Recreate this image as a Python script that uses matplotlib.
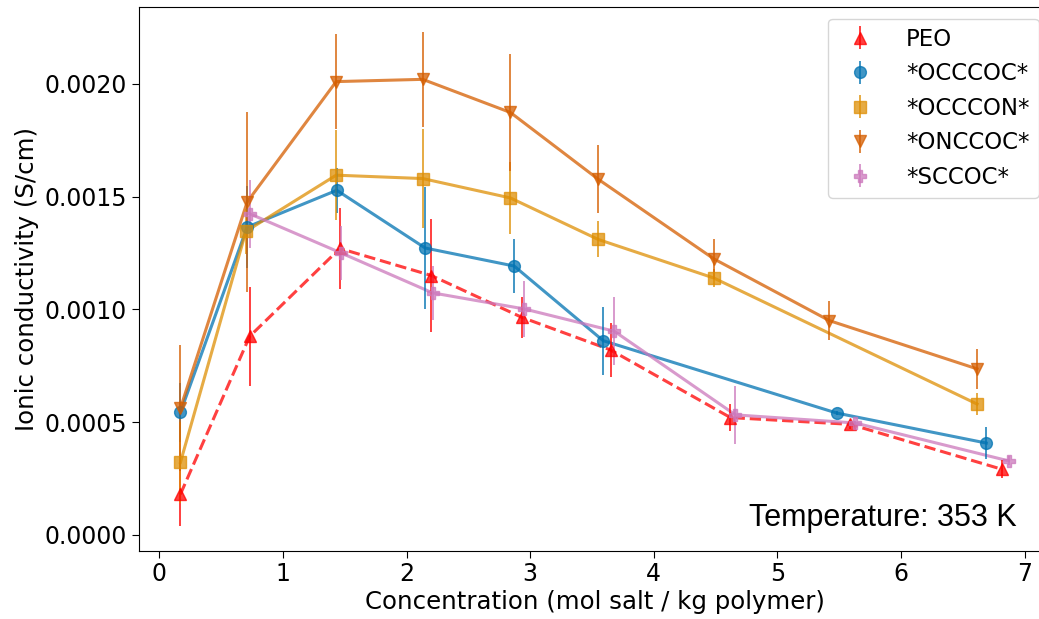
import matplotlib
matplotlib.use("Agg")
import matplotlib.pyplot as plt

# ---- data ----
peo_x = [0.17, 0.73, 1.46, 2.20, 2.93, 3.65, 4.62, 5.59, 6.82]
peo_y = [0.00018, 0.00088, 0.00127, 0.00115, 0.000965, 0.00082, 0.00052, 0.00049, 0.00029]
peo_e = [0.00014, 0.00022, 0.00018, 0.00025, 0.00009, 0.00012, 0.00006, 0.00002, 0.00004]

occcoc_x = [0.17, 0.71, 1.435, 2.15, 2.87, 3.59, 5.48, 6.69]
occcoc_y = [0.000543, 0.001365, 0.001528, 0.001272, 0.001192, 0.000861, 0.00054, 0.000407]
occcoc_e = [0.00013, 0.00018, 0.00010, 0.00027, 0.00012, 0.00015, 0.00001, 0.00007]

occcon_x = [0.17, 0.70, 1.43, 2.13, 2.84, 3.55, 4.485, 6.615]
occcon_y = [0.000321, 0.001346, 0.001595, 0.00158, 0.001494, 0.00131, 0.001139, 0.00058]
occcon_e = [0.00018, 0.00010, 0.00020, 0.00022, 0.00016, 0.00008, 0.00004, 0.00005]

onccoc_x = [0.17, 0.71, 1.43, 2.13, 2.84, 3.55, 4.485, 5.42, 6.615]
onccoc_y = [0.000561, 0.001476, 0.00201, 0.00202, 0.001873, 0.001577, 0.001224, 0.00095, 0.000736]
onccoc_e = [0.00028, 0.00040, 0.00021, 0.00021, 0.00026, 0.00015, 0.00009, 0.000087, 0.00009]

sccoc_x = [0.73, 1.47, 2.21, 2.95, 3.68, 4.66, 5.63, 6.87]
sccoc_y = [0.001424, 0.00125, 0.001073, 0.001002, 0.000903, 0.000532, 0.000496, 0.000328]
sccoc_e = [0.00015, 0.00012, 0.00012, 0.000125, 0.00015, 0.000128, 0.00001, 0.00002]

series = [
    ("PEO", peo_x, peo_y, peo_e, "red", "^", "--"),
    ("*OCCCOC*", occcoc_x, occcoc_y, occcoc_e, "#0173b2", "o", "-"),
    ("*OCCCON*", occcon_x, occcon_y, occcon_e, "#de8f05", "s", "-"),
    ("*ONCCOC*", onccoc_x, onccoc_y, onccoc_e, "#d55e00", "v", "-"),
    ("*SCCOC*", sccoc_x, sccoc_y, sccoc_e, "#cc78bc", "P", "-"),
]

FS = 17
plt.rcParams["font.family"] = ["DejaVu Sans"]
fig = plt.figure(figsize=(10.39, 6.19), dpi=100)
W, H = 1039, 619
left, right, top, bottom = 139, 1050, 7.3, 550.5
ax = fig.add_axes([left / W, 1 - bottom / H, (right - left) / W, (bottom - top) / H])

for name, x, y, e, c, m, ls in series:
    ax.errorbar(x, y, yerr=e, fmt=m, color=c, ms=8.5, elinewidth=1.4,
                alpha=0.75, label=name, zorder=3)
    ax.plot(x, y, ls, color=c, lw=2.2, alpha=0.75, zorder=2)

ax.tick_params(labelsize=FS, length=5)
ax.set_xlabel("Concentration (mol salt / kg polymer)", fontsize=17.6, labelpad=3)
ax.set_ylabel("Ionic conductivity (S/cm)", fontsize=17.6)
ax.set_xticks(range(0, 8))
ax.set_yticks([0.0, 0.0005, 0.0010, 0.0015, 0.0020])
ax.yaxis.set_major_formatter(matplotlib.ticker.FormatStrFormatter("%.4f"))

ax.legend(loc="upper right", fontsize=FS - 0.5, handletextpad=1.0)

ax.text(0.964, 0.045, "Temperature: 353 K", transform=ax.transAxes,
        ha="right", va="baseline", fontsize=22, family=["Liberation Sans"])

fig.savefig("out.png", dpi=100)
